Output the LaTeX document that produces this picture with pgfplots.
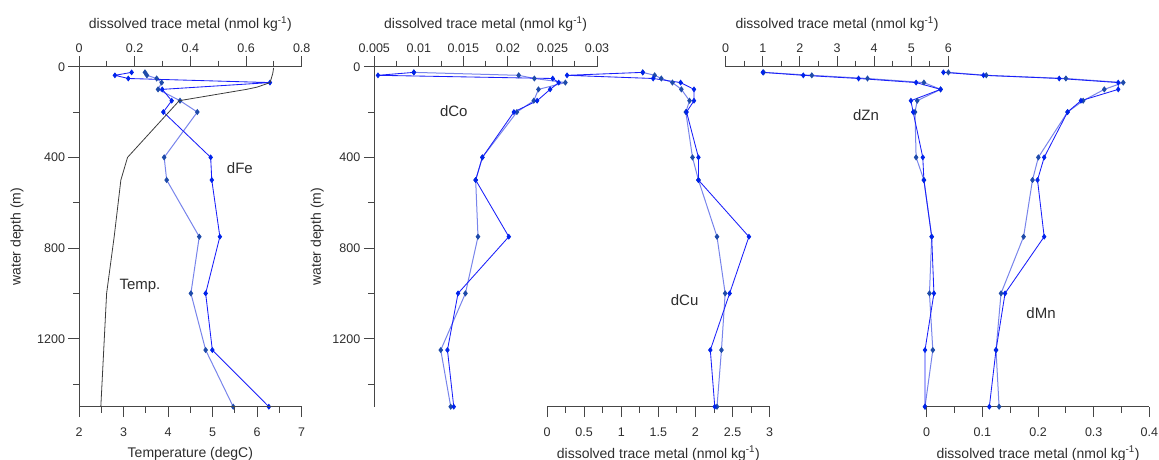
\documentclass[border=0pt]{standalone}
\usepackage{pgfplots}
\pgfplotsset{compat=1.18}
\usepackage{pgfplotstable}
\usepackage{fontspec}
\setmainfont{Liberation Sans}

\definecolor{axcol}{RGB}{70,70,70}
\definecolor{txtcol}{RGB}{45,45,45}
\definecolor{stAline}{RGB}{25,30,250}
\definecolor{stAmark}{RGB}{0,35,235}
\definecolor{stBline}{RGB}{120,132,235}
\definecolor{stBmark}{RGB}{30,75,170}
\definecolor{tempcol}{RGB}{60,60,60}

% depth profiles of the two casts (A: bright, B: pale)
\pgfplotstableread{
depth feA    feB    coA     coB     cuA   cuB   znA  znB  mnA    mnB
25    0.189  0.237  0.00944 0.00944 1.29  1.29  1.00 1.02 0.030  0.039
38    0.129  0.244  0.00541 0.02121 0.27  1.45  2.09 2.32 0.102  0.107
52    0.177  0.279  0.02503 0.02297 1.43  1.54  3.58 3.82 0.238  0.250
70    0.686  0.297  0.02570 0.02645 1.80  1.69  5.13 5.34 0.344  0.353
100   0.299  0.284  0.02474 0.02343 1.98  1.81  5.79 5.79 0.344  0.319
150   0.333  0.363  0.02328 0.02290 1.98  1.92  4.99 5.16 0.277  0.281
200   0.303  0.425  0.02067 0.02101 1.88  1.87  5.05 5.10 0.253  0.253
400   0.473  0.306  0.01713 0.01713 2.04  1.96  5.31 5.13 0.211  0.2005
500   0.477  0.315  0.01638 0.01638 2.04  2.04  5.34 5.34 0.199  0.190
750   0.506  0.432  0.02010 0.01664 2.72  2.29  5.55 5.55 0.211  0.174
1000  0.455  0.402  0.01440 0.01523 2.46  2.40  5.61 5.49 0.1407 0.1335
1250  0.479  0.455  0.01321 0.01246 2.20  2.35  5.37 5.58 0.1245 0.1245
1500  0.682  0.554  0.01392 0.01358 2.26  2.29  5.37 5.37 0.1125 0.130
}\profiles

\pgfplotstableread{
depth temp
5     6.37
30    6.35
70    6.29
90    6.00
100   5.76
150   4.25
400   3.09
500   2.94
750   2.79
1000  2.62
1500  2.49
}\temperature

\pgfplotsset{
  depthax/.style={
    scale only axis, width=222.7pt, height=340pt,
    anchor=south west,
    y dir=reverse, ymin=0, ymax=1500,
    clip=false,
    tick align=outside,
    major tick length=10.5pt, minor tick length=6pt,
    axis line style={draw=axcol, line width=0.9pt, -},
    every tick/.style={draw=axcol, line width=0.9pt},
    every minor tick/.style={draw=axcol, line width=0.9pt},
    tick label style={font=\fontsize{12.5}{14}\selectfont, text=txtcol},
    label style={font=\fontsize{14}{16}\selectfont, text=txtcol},
    scaled ticks=false,
  },
  topx/.style={axis x line*=top,
    xlabel={dissolved trace metal (nmol kg\textsuperscript{-1})},
    xlabel style={at={(axis description cs:0.5,1.125)}, anchor=center}},
  botx/.style={axis x line*=bottom,
    xticklabel style={yshift=-7pt},
    xlabel style={at={(axis description cs:0.5,-0.138)}, anchor=center}},
  depthy/.style={axis y line*=left,
    ytick={0,400,800,1200}, minor ytick={200,600,1000,1400},
    yticklabels={0,400,800,1200},
    ylabel={water depth (m)}},
  noy/.style={axis y line=none, ytick=\empty},
  castA/.style={color=stAline, line width=0.85pt, mark=diamond*, mark size=2.3pt,
    mark options={fill=stAmark, draw=stAmark}},
  castB/.style={color=stBline, line width=1pt, mark=diamond*, mark size=2.3pt,
    mark options={fill=stBmark, draw=stBmark}},
}

\begin{document}
\begin{tikzpicture}
\useasboundingbox (0,0) rectangle (1159pt,459pt);

% ---- dFe and temperature ----
\begin{axis}[depthax, topx, depthy, at={(79pt,52.3pt)},
  xmin=0, xmax=0.8,
  xtick={0,0.2,0.4,0.6,0.8}, xticklabels={0,0.2,0.4,0.6,0.8},
  minor xtick={0.1,0.3,0.5,0.7},
  ylabel style={at={(axis description cs:-0.278,0.5)}, anchor=center}]
\addplot[castB] table[x=feB, y=depth] {\profiles};
\addplot[castA] table[x=feA, y=depth] {\profiles};
\node[font=\fontsize{15}{17}\selectfont, text=txtcol] at (axis cs:0.578,447) {dFe};
\node[font=\fontsize{15}{17}\selectfont, text=txtcol] at (axis cs:0.219,967) {Temp.};
\end{axis}
\begin{axis}[depthax, botx, noy, at={(79pt,52.3pt)},
  xmin=2, xmax=7,
  xtick={2,3,4,5,6,7}, xticklabels={2,3,4,5,6,7},
  minor xtick={2.5,3.5,4.5,5.5,6.5},
  xlabel={Temperature (degC)}]
\addplot[tempcol, line width=0.8pt] table[x=temp, y=depth] {\temperature};
\end{axis}

% ---- dCo and dCu ----
\begin{axis}[depthax, topx, depthy, at={(374.3pt,52.3pt)},
  xmin=0.005, xmax=0.03,
  xtick={0.005,0.01,0.015,0.02,0.025,0.03},
  xticklabels={0.005,0.01,0.015,0.02,0.025,0.03},
  minor xtick={0.0075,0.0125,0.0175,0.0225,0.0275},
  ylabel style={at={(axis description cs:-0.256,0.5)}, anchor=center}]
\addplot[castB] table[x=coB, y=depth] {\profiles};
\addplot[castA] table[x=coA, y=depth] {\profiles};
\node[font=\fontsize{15}{17}\selectfont, text=txtcol] at (axis cs:0.01392,196) {dCo};
\end{axis}
\begin{axis}[depthax, botx, noy, at={(547pt,52.3pt)},
  xmin=0, xmax=3,
  xtick={0,0.5,1,1.5,2,2.5,3}, xticklabels={0,0.5,1,1.5,2,2.5,3},
  minor xtick={0.25,0.75,1.25,1.75,2.25,2.75},
  xlabel={dissolved trace metal (nmol kg\textsuperscript{-1})}]
\addplot[castB] table[x=cuB, y=depth] {\profiles};
\addplot[castA] table[x=cuA, y=depth] {\profiles};
\node[font=\fontsize{15}{17}\selectfont, text=txtcol] at (axis cs:1.854,1029) {dCu};
\end{axis}

% ---- dZn and dMn ----
\begin{axis}[depthax, topx, noy, at={(725.7pt,52.3pt)},
  xmin=0, xmax=6,
  xtick={0,1,2,3,4,5,6}, xticklabels={0,1,2,3,4,5,6},
  minor xtick={0.5,1.5,2.5,3.5,4.5,5.5}]
\addplot[castB] table[x=znB, y=depth] {\profiles};
\addplot[castA] table[x=znA, y=depth] {\profiles};
\node[font=\fontsize{15}{17}\selectfont, text=txtcol] at (axis cs:3.78,213) {dZn};
\end{axis}
\begin{axis}[depthax, botx, noy, at={(926.7pt,52.3pt)},
  xmin=0, xmax=0.4,
  xtick={0,0.1,0.2,0.3,0.4}, xticklabels={0,0.1,0.2,0.3,0.4},
  minor xtick={0.05,0.15,0.25,0.35},
  xlabel={dissolved trace metal (nmol kg\textsuperscript{-1})}]
\addplot[castB] table[x=mnB, y=depth] {\profiles};
\addplot[castA] table[x=mnA, y=depth] {\profiles};
\node[font=\fontsize{15}{17}\selectfont, text=txtcol] at (axis cs:0.2054,1087) {dMn};
\end{axis}
\end{tikzpicture}
\end{document}
